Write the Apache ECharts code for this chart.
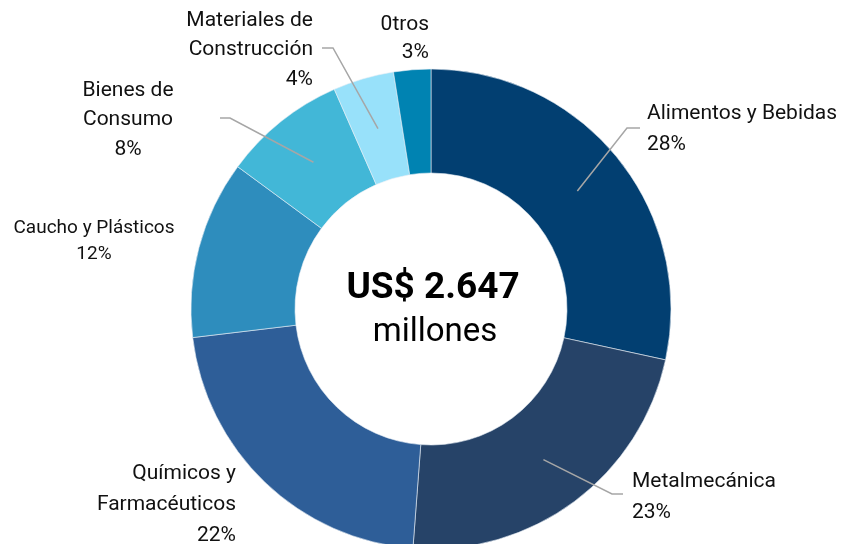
<!DOCTYPE html>
<html>
<head>
<meta charset="utf-8">
<script src="https://cdn.jsdelivr.net/npm/echarts@6/dist/echarts.min.js"></script>
<style>
  html, body { margin: 0; padding: 0; background: #fff; }
  #chart { width: 843px; height: 544px; }
</style>
</head>
<body>
<div id="chart"></div>
<script>
const sectors = ['Alimentos y Bebidas', 'Metalmecánica', 'Químicos y\nFarmacéuticos', 'Caucho y Plásticos', 'Bienes de\nConsumo', 'Materiales de\nConstrucción', '0tros'];
// shares in % (labels show them rounded)
const shares = [28.4, 22.8, 21.9, 12.0, 8.3, 4.1, 2.5];
const totalLabel = 'US$ 2.647';
const unitLabel = 'millones';

const colors = ['#023f71', '#264368', '#2e5e98', '#2e8dbd', '#42b7d7', '#98e1fa', '#0083b2'];

// donut geometry
const CX = 431, CY = 309, R_IN = 136, R_OUT = 240;

// where each label sits (x, y = middle of the text block) and the elbow of its leader line
const labelPlace = {
  'Alimentos y Bebidas': { x: 647, y: 129, align: 'left', line: [[627, 128], [640, 128]] },
  'Metalmecánica': { x: 632, y: 497, align: 'left', line: [[612, 494], [623, 494]] },
  'Químicos y\nFarmacéuticos': { x: 236, y: 505, align: 'right' },
  'Caucho y Plásticos': { x: 94, y: 241, align: 'center', fontSize: 19, lineHeight: 26 },
  'Bienes de\nConsumo': { x: 128, y: 120, align: 'center', lineHeight: 29.5, line: [[230, 118], [220, 118]] },
  'Materiales de\nConstrucción': { x: 313, y: 50, align: 'right', lineHeight: 29.5, line: [[333, 48], [322, 48]] },
  '0tros': { x: 429, y: 39, align: 'right', lineHeight: 28 },
};

const total = shares.reduce((a, b) => a + b, 0);
const midAngle = i => {
  const before = shares.slice(0, i).reduce((a, b) => a + b, 0);
  return (before + shares[i] / 2) / total * Math.PI * 2;
};

// leader lines start half way across the ring, at the slice's middle angle
const leaderLines = [];
sectors.forEach((name, i) => {
  const p = labelPlace[name];
  if (!p.line) return;
  const a = midAngle(i);
  const rMid = (R_IN + R_OUT) / 2;
  const start = [CX + rMid * Math.sin(a), CY - rMid * Math.cos(a)];
  leaderLines.push({
    type: 'polyline',
    z: 10,
    shape: { points: [start, p.line[0], p.line[1]] },
    style: { stroke: '#a6a6a6', lineWidth: 1.5, fill: null },
  });
});

const chart = echarts.init(document.getElementById('chart'), null, { renderer: 'canvas' });

const pieData = sectors.map((name, i) => {
  const p = labelPlace[name];
  const label = {};
  if (p.fontSize) label.fontSize = p.fontSize;
  if (p.lineHeight) label.lineHeight = p.lineHeight;
  return {
    name: name,
    value: shares[i],
    itemStyle: { color: colors[i] },
    label: label,
  };
});

chart.setOption({
  animation: false,
  graphic: [
    {
      type: 'text',
      style: { x: CX + 2, y: 289, text: totalLabel, align: 'center', verticalAlign: 'middle', fontFamily: 'Roboto', fontWeight: 'bold', fontSize: 37, fill: '#000' }
    },
    {
      type: 'text',
      style: { x: CX + 4, y: 333, text: unitLabel, align: 'center', verticalAlign: 'middle', fontFamily: 'Roboto', fontSize: 33, fill: '#000' }
    }
  ].concat(leaderLines),
  series: [
    {
      type: 'pie',
      center: [CX, CY],
      radius: [R_IN, R_OUT],
      startAngle: 90,
      clockwise: true,
      avoidLabelOverlap: false,
      itemStyle: { borderColor: '#e8eef5', borderWidth: 0.6 },
      emphasis: { disabled: true },
      label: {
        show: true,
        position: 'outside',
        formatter: p => p.name + '\n' + Math.round(p.value) + '%',
        fontFamily: 'Roboto',
        fontSize: 21,
        lineHeight: 31,
        color: '#111',
        width: 260,
        overflow: 'none',
      },
      labelLine: { show: false },
      labelLayout: function (params) {
        const p = labelPlace[sectors[params.dataIndex]];
        return { x: p.x, y: p.y, align: p.align, verticalAlign: 'middle' };
      },
      data: pieData,
    }
  ]
});

window.addEventListener('resize', () => chart.resize());
</script>
</body>
</html>
